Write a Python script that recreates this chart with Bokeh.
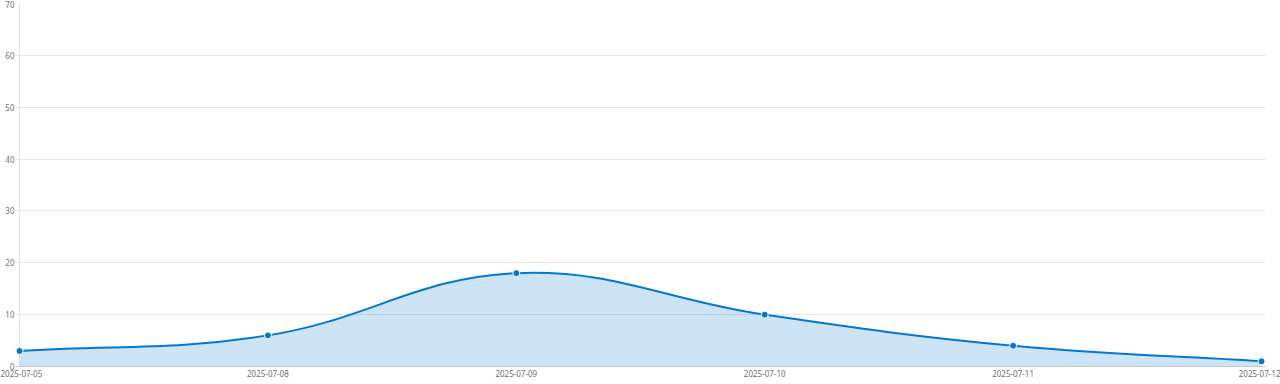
import math
from bokeh.plotting import figure
from bokeh.models import FixedTicker, Range1d, Span
from bokeh.embed import file_html
from bokeh.resources import INLINE

dates = ["2025-07-05", "2025-07-08", "2025-07-09", "2025-07-10", "2025-07-11", "2025-07-12"]
counts = [3, 6, 18, 10, 4, 1]
y_ticks = [0, 10, 20, 30, 40, 50, 60, 70]

W, H = 1280, 384
ML, MR, MT, MB = 15, 15, 3, 18
PADPX = 4  # extra pixels on each side so end markers are not clipped
fw, fh = W - ML - MR, H - MT - MB
xs = list(range(len(dates)))
sx = (fw - 2 * PADPX) / (len(dates) - 1)
sy = fh / 70.0
xpad = PADPX / sx

# Cardinal-style smoothing (tension 0.4) computed in pixel space
tension = 0.4
pts = [(x * sx, y * sy) for x, y in zip(xs, counts)]
n = len(pts)
cps = []
for i in range(n):
    cur = pts[i]
    prev = pts[i - 1] if i > 0 else cur
    nxt = pts[i + 1] if i < n - 1 else cur
    d01 = math.hypot(cur[0] - prev[0], cur[1] - prev[1])
    d12 = math.hypot(nxt[0] - cur[0], nxt[1] - cur[1])
    tot = d01 + d12
    s01 = d01 / tot if tot else 0
    s12 = d12 / tot if tot else 0
    fa, fb = tension * s01, tension * s12
    cp_prev = (cur[0] - fa * (nxt[0] - prev[0]), cur[1] - fa * (nxt[1] - prev[1]))
    cp_next = (cur[0] + fb * (nxt[0] - prev[0]), cur[1] + fb * (nxt[1] - prev[1]))
    cps.append((cp_prev, cp_next))

def to_data(p):
    return (p[0] / sx, p[1] / sy)

segs_d = []
for i in range(1, n):
    segs_d.append((to_data(pts[i - 1]), to_data(cps[i - 1][1]), to_data(cps[i][0]), to_data(pts[i])))

# sampled outline for the area fill
ax, ay = [], []
for (p0, c0, c1, p1) in segs_d:
    for k in range(41):
        t = k / 40
        mt = 1 - t
        ax.append(mt**3 * p0[0] + 3 * mt**2 * t * c0[0] + 3 * mt * t**2 * c1[0] + t**3 * p1[0])
        ay.append(mt**3 * p0[1] + 3 * mt**2 * t * c0[1] + 3 * mt * t**2 * c1[1] + t**3 * p1[1])

p = figure(width=W, height=H, output_backend="svg", toolbar_location=None,
           x_range=Range1d(-xpad, len(dates) - 1 + xpad), y_range=Range1d(0, 70),
           min_border_left=ML, min_border_right=MR, min_border_top=MT, min_border_bottom=MB)
p.outline_line_color = None
p.background_fill_color = "white"
p.border_fill_color = "white"

p.add_layout(Span(location=0, dimension="height", line_color="#e6e6e6", line_width=1, level="underlay"))

p.patch(ax + [ax[-1], ax[0]], ay + [0, 0], fill_color="#0078d4", fill_alpha=0.2, line_color=None)
p.bezier(x0=[s[0][0] for s in segs_d], y0=[s[0][1] for s in segs_d],
         x1=[s[3][0] for s in segs_d], y1=[s[3][1] for s in segs_d],
         cx0=[s[1][0] for s in segs_d], cy0=[s[1][1] for s in segs_d],
         cx1=[s[2][0] for s in segs_d], cy1=[s[2][1] for s in segs_d],
         line_color="#0078d4", line_width=2)
p.scatter(xs, counts, size=7, fill_color="#0078d4", line_color="white", line_width=1)

p.xgrid.visible = False
p.ygrid.grid_line_color = "#e6e6e6"
p.ygrid.ticker = FixedTicker(ticks=y_ticks)

p.xaxis.ticker = FixedTicker(ticks=xs)
p.xaxis.major_label_overrides = {i: d for i, d in enumerate(dates)}
p.yaxis.ticker = FixedTicker(ticks=y_ticks)
for ax_ in (p.xaxis[0], p.yaxis[0]):
    ax_.major_label_text_font = "Noto Sans"
    ax_.major_label_text_font_size = "8px"
    ax_.major_label_text_color = "#6e7079"
    ax_.minor_tick_line_color = None
    ax_.minor_tick_out = 0
    ax_.minor_tick_in = 0
p.xaxis.axis_line_color = "#c8c8c8"
p.xaxis.major_tick_line_color = None
p.xaxis.major_tick_out = 0
p.xaxis.major_tick_in = 0
p.xaxis.major_label_standoff = 3
p.yaxis.axis_line_color = None
p.yaxis.major_tick_line_color = None
p.yaxis.major_tick_out = 0
p.yaxis.major_tick_in = 0
p.yaxis.major_label_standoff = 1

open("out.html", "w").write(file_html(p, INLINE))
